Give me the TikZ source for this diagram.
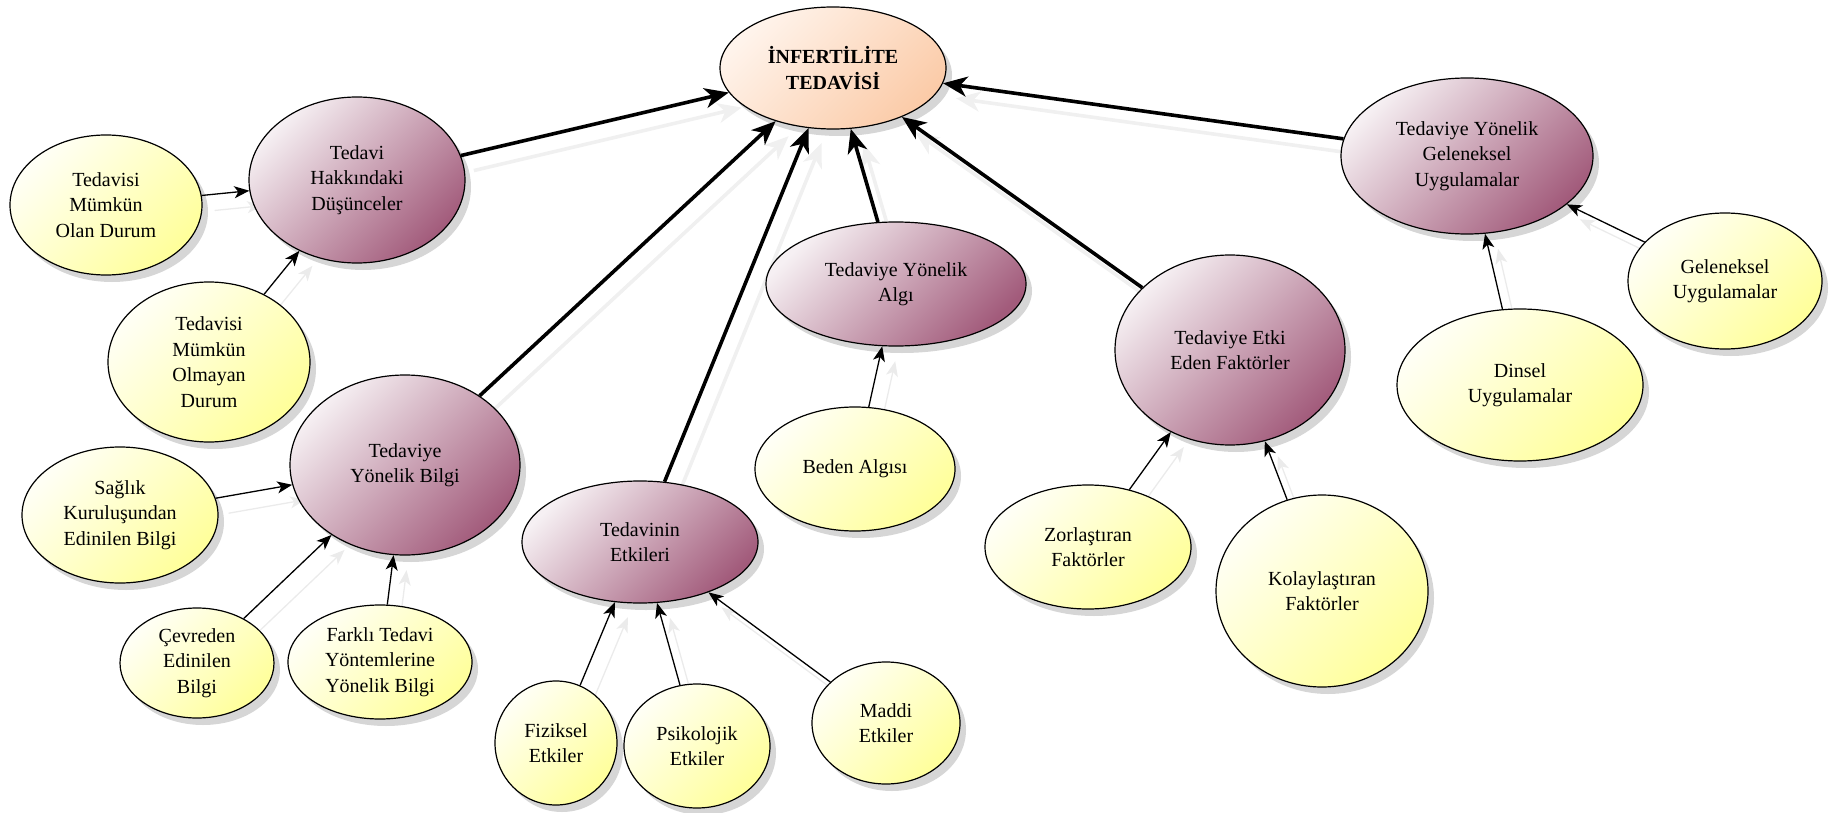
\documentclass[tikz,border=0pt]{standalone}
\usepackage{fontspec}
\setmainfont{Liberation Serif}
\usetikzlibrary{shapes.geometric,arrows.meta,shadows,backgrounds}

\definecolor{mauveD}{HTML}{A25B7B}
\definecolor{mauveL}{HTML}{F6F0F3}
\definecolor{yellD}{HTML}{FFFF9A}
\definecolor{yellL}{HTML}{FFFFF6}
\definecolor{peachD}{HTML}{FBCBA8}
\definecolor{peachL}{HTML}{FFF4EC}

\tikzset{
  bubble/.style={ellipse, draw=black, line width=1.2pt, inner sep=0pt,
    align=center, font=\fontsize{20}{25.5}\selectfont,
    drop shadow={shadow xshift=6pt, shadow yshift=-7pt, opacity=0.16, fill=black}},
  rootnode/.style={bubble, top color=peachL, bottom color=peachD, shading angle=45,
    font=\fontsize{20}{25.5}\selectfont\bfseries},
  themenode/.style={bubble, top color=mauveL, bottom color=mauveD, shading angle=45},
  leafnode/.style={bubble, top color=yellL, bottom color=yellD, shading angle=45},
  major/.style={-{Stealth[length=24pt,width=20pt,inset=7pt]}, line width=3.6pt},
  minor/.style={-{Stealth[length=15pt,width=12pt,inset=4pt]}, line width=1.3pt},
  ghostmajor/.style={major, draw=black!6, fill=black!6,
    transform canvas={shift={(13pt,-15pt)}}},
  ghostminor/.style={minor, draw=black!8, fill=black!8,
    transform canvas={shift={(13pt,-15pt)}}},
}

\begin{document}
\begin{tikzpicture}[x=1pt, y=-1pt]
\useasboundingbox (0,0) rectangle (1841,813);

% central concept
\node[rootnode, minimum width=226pt, minimum height=122pt] (root) at (833,68)
  {İNFERTİLİTE\\TEDAVİSİ};

% themes
\node[themenode, minimum width=216pt, minimum height=166pt] (dus) at (357,180)
  {Tedavi\\Hakkındaki\\Düşünceler};
\node[themenode, minimum width=230pt, minimum height=180pt] (bilgi) at (405,465)
  {Tedaviye\\Yönelik Bilgi};
\node[themenode, minimum width=236pt, minimum height=122pt] (etki) at (640,542)
  {Tedavinin\\Etkileri};
\node[themenode, minimum width=260pt, minimum height=124pt] (algi) at (896,284)
  {Tedaviye Yönelik\\Algı};
\node[themenode, minimum width=230pt, minimum height=190pt] (faktor) at (1230,350)
  {Tedaviye Etki\\Eden Faktörler};
\node[themenode, minimum width=252pt, minimum height=156pt] (gel) at (1467,156)
  {Tedaviye Yönelik\\Geleneksel\\Uygulamalar};

% sub-themes
\node[leafnode, minimum width=192pt, minimum height=140pt] (olan) at (106,205)
  {Tedavisi\\Mümkün\\Olan Durum};
\node[leafnode, minimum width=202pt, minimum height=160pt] (olmayan) at (209,362)
  {Tedavisi\\Mümkün\\Olmayan\\Durum};
\node[leafnode, minimum width=196pt, minimum height=136pt] (saglik) at (120,515)
  {Sağlık\\Kuruluşundan\\Edinilen Bilgi};
\node[leafnode, minimum width=154pt, minimum height=110pt] (cevre) at (197,663)
  {Çevreden\\Edinilen\\Bilgi};
\node[leafnode, minimum width=184pt, minimum height=114pt] (farkli) at (380,662)
  {Farklı Tedavi\\Yöntemlerine\\Yönelik Bilgi};
\node[leafnode, minimum width=122pt, minimum height=124pt] (fiz) at (556,743)
  {Fiziksel\\Etkiler};
\node[leafnode, minimum width=146pt, minimum height=124pt] (psi) at (697,746)
  {Psikolojik\\Etkiler};
\node[leafnode, minimum width=148pt, minimum height=122pt] (maddi) at (886,723)
  {Maddi\\Etkiler};
\node[leafnode, minimum width=200pt, minimum height=124pt] (beden) at (855,469)
  {Beden Algısı};
\node[leafnode, minimum width=206pt, minimum height=124pt] (zor) at (1088,547)
  {Zorlaştıran\\Faktörler};
\node[leafnode, minimum width=212pt, minimum height=192pt] (kolay) at (1322,591)
  {Kolaylaştıran\\Faktörler};
\node[leafnode, minimum width=246pt, minimum height=152pt] (dinsel) at (1520,385)
  {Dinsel\\Uygulamalar};
\node[leafnode, minimum width=194pt, minimum height=136pt] (gelu) at (1725,281)
  {Geleneksel\\Uygulamalar};

% faint reflections of the connectors, behind the bubbles
\begin{scope}[on background layer]
  \foreach \a in {dus,bilgi,etki,algi,faktor,gel}
    \draw[ghostmajor] (\a) -- (root);
  \foreach \a/\b in {olan/dus, olmayan/dus, saglik/bilgi, cevre/bilgi,
      farkli/bilgi, fiz/etki, psi/etki, maddi/etki, beden/algi,
      zor/faktor, kolay/faktor, dinsel/gel, gelu/gel}
    \draw[ghostminor] (\a) -- (\b);
\end{scope}

% themes to the central concept
\foreach \a in {dus,bilgi,etki,algi,faktor,gel}
  \draw[major] (\a) -- (root);

% sub-themes to their themes
\foreach \a/\b in {olan/dus, olmayan/dus, saglik/bilgi, cevre/bilgi,
    farkli/bilgi, fiz/etki, psi/etki, maddi/etki, beden/algi,
    zor/faktor, kolay/faktor, dinsel/gel, gelu/gel}
  \draw[minor] (\a) -- (\b);
\end{tikzpicture}
\end{document}
